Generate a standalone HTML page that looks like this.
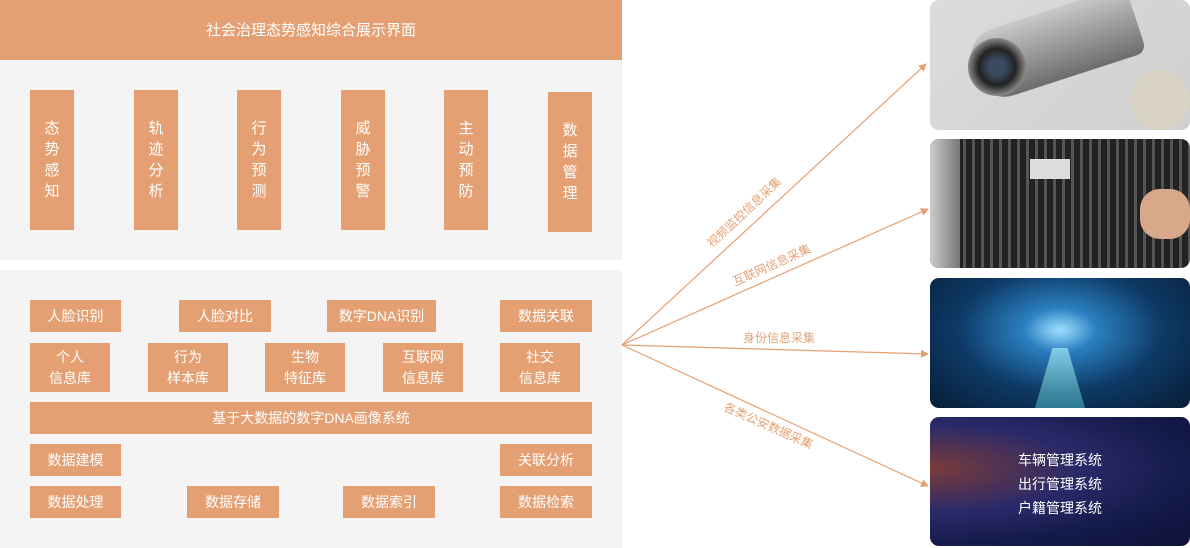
<!DOCTYPE html>
<html><head><meta charset="utf-8"><style>
*{margin:0;padding:0;box-sizing:border-box}
body{width:1190px;height:548px;position:relative;background:#fff;font-family:"Liberation Sans","Noto Sans CJK SC",sans-serif;overflow:hidden}
.a{position:absolute}
.b{position:absolute;background:#e4a072;color:#fff;font-size:14px;display:flex;align-items:center;justify-content:center;text-align:center;line-height:21px}
.v{position:absolute;background:#e4a072;color:#fff;font-size:15px;line-height:21px;width:44px;height:140px;top:90px;display:flex;align-items:center;justify-content:center;text-align:center}
.img{position:absolute;left:930px;width:260px;border-radius:9px;overflow:hidden}
</style></head><body>
<div class="b" style="left:0;top:0;width:622px;height:60px;font-size:15px">社会治理态势感知综合展示界面</div>
<div class="a" style="left:0;top:60px;width:622px;height:200px;background:#f4f4f4"></div>
<div class="a" style="left:0;top:270px;width:622px;height:278px;background:#f4f4f4"></div>
<div class="v" style="left:30px">态<br>势<br>感<br>知</div>
<div class="v" style="left:134px">轨<br>迹<br>分<br>析</div>
<div class="v" style="left:237px">行<br>为<br>预<br>测</div>
<div class="v" style="left:341px">威<br>胁<br>预<br>警</div>
<div class="v" style="left:444px">主<br>动<br>预<br>防</div>
<div class="v" style="left:548px;top:92px">数<br>据<br>管<br>理</div>

<div class="b" style="left:30px;top:300px;width:91px;height:32px">人脸识别</div>
<div class="b" style="left:179px;top:300px;width:92px;height:32px">人脸对比</div>
<div class="b" style="left:327px;top:300px;width:109px;height:32px">数字DNA识别</div>
<div class="b" style="left:500px;top:300px;width:92px;height:32px">数据关联</div>
<div class="b" style="left:30px;top:343px;width:80px;height:49px">个人<br>信息库</div>
<div class="b" style="left:148px;top:343px;width:80px;height:49px">行为<br>样本库</div>
<div class="b" style="left:265px;top:343px;width:80px;height:49px">生物<br>特征库</div>
<div class="b" style="left:383px;top:343px;width:80px;height:49px">互联网<br>信息库</div>
<div class="b" style="left:500px;top:343px;width:80px;height:49px">社交<br>信息库</div>
<div class="b" style="left:30px;top:402px;width:562px;height:32px">基于大数据的数字DNA画像系统</div>
<div class="b" style="left:30px;top:444px;width:91px;height:32px">数据建模</div>
<div class="b" style="left:500px;top:444px;width:92px;height:32px">关联分析</div>
<div class="b" style="left:30px;top:486px;width:91px;height:32px">数据处理</div>
<div class="b" style="left:187px;top:486px;width:92px;height:32px">数据存储</div>
<div class="b" style="left:343px;top:486px;width:92px;height:32px">数据索引</div>
<div class="b" style="left:500px;top:486px;width:92px;height:32px">数据检索</div>

<svg class="a" style="left:0;top:0" width="1190" height="548">
<defs><marker id="m" markerWidth="8" markerHeight="8" refX="7" refY="4" orient="auto" markerUnits="userSpaceOnUse"><path d="M0,0L8,4L0,8z" fill="#e4a072"/></marker></defs>
<g stroke="#e4a072" stroke-width="1.2" fill="none" marker-end="url(#m)">
<line x1="622" y1="345" x2="926" y2="64"/>
<line x1="622" y1="345" x2="928" y2="209"/>
<line x1="622" y1="345" x2="928" y2="354"/>
<line x1="622" y1="345" x2="928" y2="486"/>
</g>
<g fill="#e4a072" font-size="12" font-family="Liberation Sans,Noto Sans CJK SC,sans-serif">
<text transform="translate(712,248) rotate(-43)">视频监控信息采集</text>
<text transform="translate(735,286) rotate(-24)">互联网信息采集</text>
<text x="743" y="342">身份信息采集</text>
<text transform="translate(723,410) rotate(24)">各类公安数据采集</text>
</g>
</svg>

<div class="img" style="top:0;height:130px;background:linear-gradient(135deg,#dcdcdc,#cfcfcf)">
<div class="a" style="left:40px;top:10px;width:170px;height:70px;background:linear-gradient(#c9c9c9,#6d6d6d);border-radius:30px 10px 10px 30px;transform:rotate(-18deg)"></div>
<div class="a" style="left:38px;top:38px;width:58px;height:58px;border-radius:50%;background:radial-gradient(#3a4a60 20%,#222 45%,#888 70%)"></div>
<div class="a" style="left:200px;top:70px;width:60px;height:60px;border-radius:50%;background:#d9d3c4"></div>
</div>
<div class="img" style="top:139px;height:129px;background:repeating-linear-gradient(90deg,#222 0 6px,#555 6px 9px),#333">
<div class="a" style="left:0;top:0;width:30px;height:129px;background:linear-gradient(90deg,#ccc,#777)"></div>
<div class="a" style="left:100px;top:20px;width:40px;height:20px;background:#ddd"></div>
<div class="a" style="left:210px;top:50px;width:50px;height:50px;background:#d8a88a;border-radius:20px"></div>
</div>
<div class="img" style="top:278px;height:130px;background:radial-gradient(ellipse at 50% 40%,#9fe0ff 0,#2a7fc0 20%,#0e3a66 55%,#071c36 100%)">
<div class="a" style="left:105px;top:70px;width:50px;height:60px;background:linear-gradient(#bff,#4ab);opacity:.6;clip-path:polygon(35% 0,65% 0,100% 100%,0 100%)"></div>
</div>
<div class="img" style="top:417px;height:129px;background:radial-gradient(ellipse at 0% 40%,#7a3b3a 0,#2a2a6a 40%,#141a4a 70%,#0e1238 100%);color:#fff;font-size:14px;line-height:24px">
<div class="a" style="left:88px;top:31px">车辆管理系统<br>出行管理系统<br>户籍管理系统</div>
</div>
</body></html>
